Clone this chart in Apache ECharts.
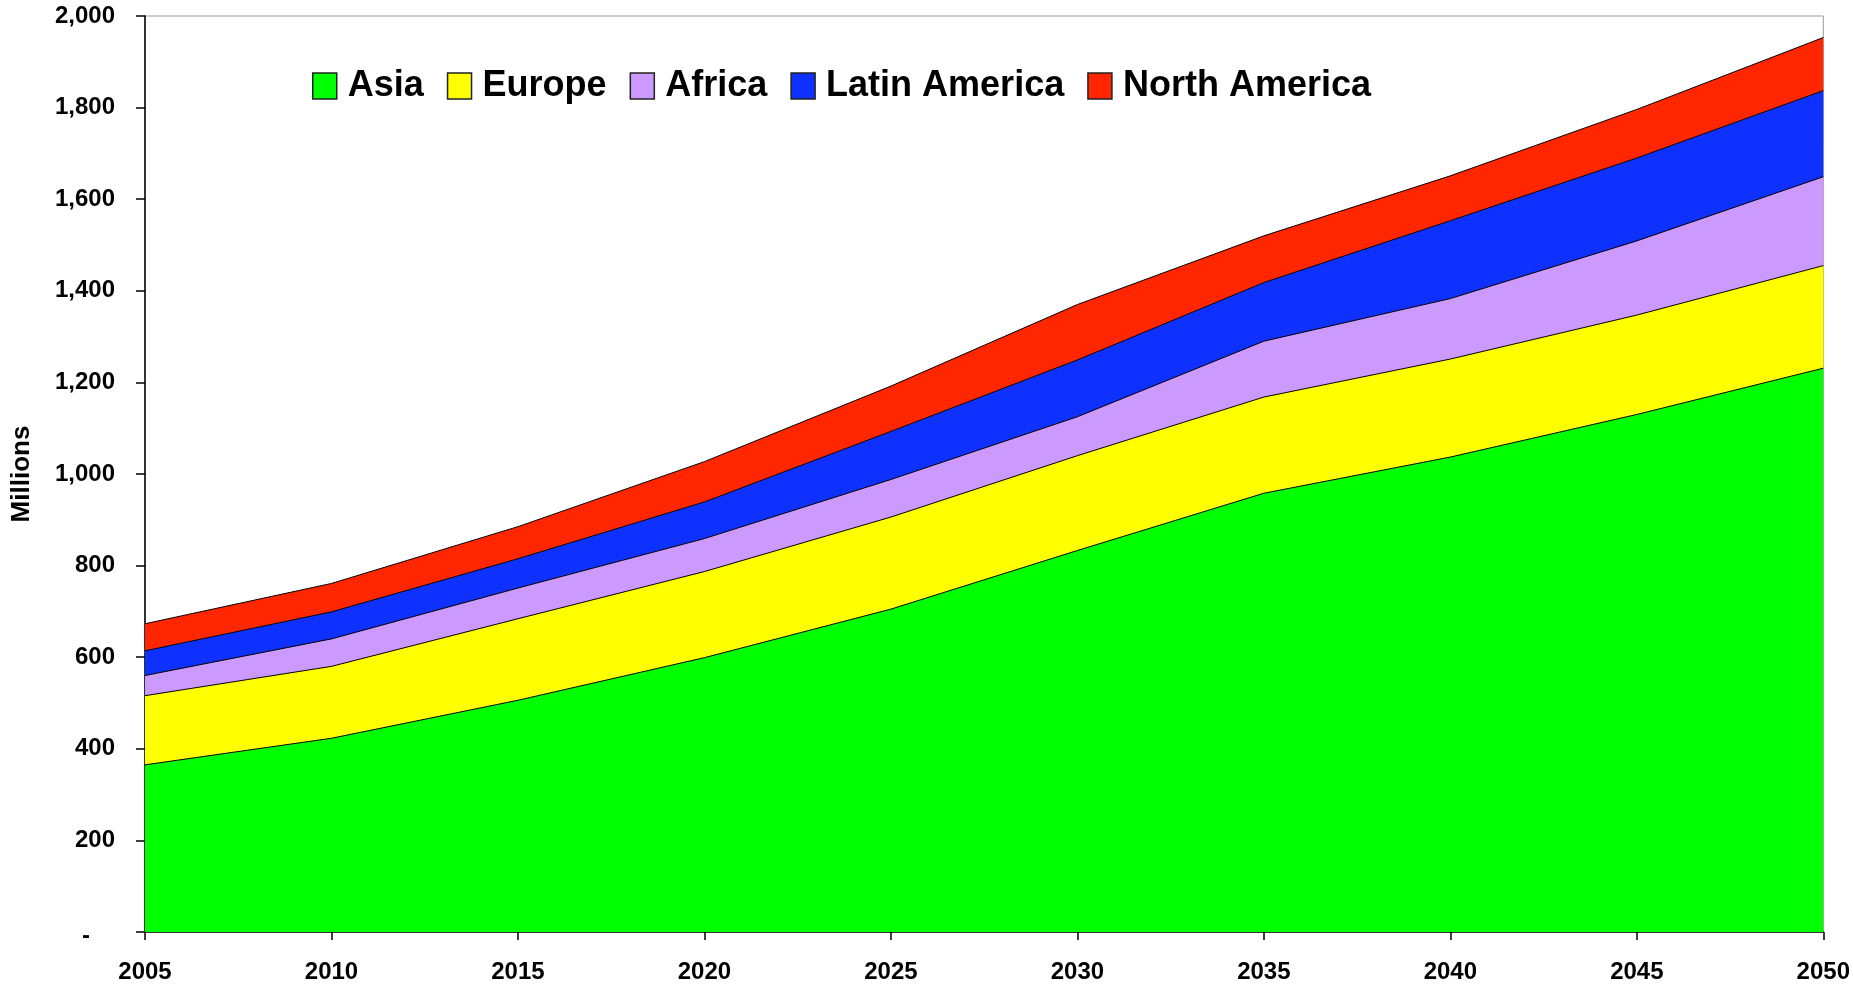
<!DOCTYPE html>
<html>
<head>
<meta charset="utf-8">
<script src="https://cdn.jsdelivr.net/npm/echarts@6/dist/echarts.min.js"></script>
<style>
html,body{margin:0;padding:0;background:#fff;}
#chart{width:1853px;height:987px;}
</style>
</head>
<body>
<div id="chart"></div>
<script>
const years = ['2005','2010','2015','2020','2025','2030','2035','2040','2045','2050'];
const asia = [365, 423, 506, 599, 705, 833, 958, 1037, 1130, 1231];
const europe = [151, 157, 178, 188, 201, 207, 210, 214, 217, 224];
const africa = [44, 60, 67, 72, 82, 85, 122, 132, 162, 194];
const latinAmerica = [54, 59, 64, 80, 105, 124, 128, 170, 181, 188];
const northAmerica = [59, 62, 70, 88, 99, 121, 102, 98, 106, 116];
const seriesNames = ['Asia', 'Europe', 'Africa', 'Latin America', 'North America'];
const seriesData = [asia, europe, africa, latinAmerica, northAmerica];
const colors = ['#00FF00', '#FFFF00', '#CC99FF', '#0F31FF', '#FF2600'];

const chart = echarts.init(document.getElementById('chart'));
const font = 'Liberation Sans, Arial, sans-serif';

chart.setOption({
  animation: false,
  backgroundColor: '#fff',
  grid: {
    left: 145, right: 26, top: 16, bottom: 55,
    show: true, borderColor: '#999', borderWidth: 1, backgroundColor: '#fff'
  },
  legend: {
    left: 307, top: 63,
    itemWidth: 24, itemHeight: 26, itemGap: 23,
    icon: 'rect',
    data: seriesNames.map((n, i) => ({
      name: n,
      itemStyle: { color: colors[i], borderColor: '#222', borderWidth: 1.5 }
    })),
    textStyle: {
      fontFamily: font, fontSize: 36, fontWeight: 'bold', color: '#000',
      padding: [0, 0, 0, 6], lineHeight: 26
    }
  },
  xAxis: {
    type: 'category',
    data: years,
    boundaryGap: false,
    axisLine: { lineStyle: { color: '#000', width: 1.5 } },
    axisTick: { show: true, length: 8, inside: false, lineStyle: { color: '#000', width: 1.5 } },
    axisLabel: {
      fontFamily: font, fontSize: 24, fontWeight: 'bold', color: '#000', margin: 28
    },
    splitLine: { show: false }
  },
  yAxis: {
    type: 'value',
    min: 0, max: 2000, interval: 200,
    name: 'Millions',
    nameLocation: 'middle',
    nameGap: 110,
    nameRotate: 90,
    nameTextStyle: { fontFamily: font, fontSize: 26, fontWeight: 'bold', color: '#000' },
    axisLine: { show: true, lineStyle: { color: '#000', width: 1.5 } },
    axisTick: { show: true, length: 9, lineStyle: { color: '#000', width: 1.5 } },
    axisLabel: {
      fontFamily: font, fontSize: 24, fontWeight: 'bold', color: '#000', margin: 30,
      formatter: function (v) {
        if (v === 0) return '{z|-}';
        return v.toLocaleString('en-US');
      },
      rich: {
        z: { fontFamily: font, fontSize: 24, fontWeight: 'bold', color: '#000', padding: [8, 25, 0, 0] }
      }
    },
    splitLine: { show: false }
  },
  series: seriesNames.map((n, i) => ({
    name: n,
    type: 'line',
    stack: 'total',
    data: seriesData[i],
    showSymbol: false,
    symbol: 'none',
    lineStyle: { color: '#000', width: 1 },
    itemStyle: { color: colors[i] },
    areaStyle: { color: colors[i], opacity: 1 },
    emphasis: { disabled: true }
  }))
});
</script>
</body>
</html>
